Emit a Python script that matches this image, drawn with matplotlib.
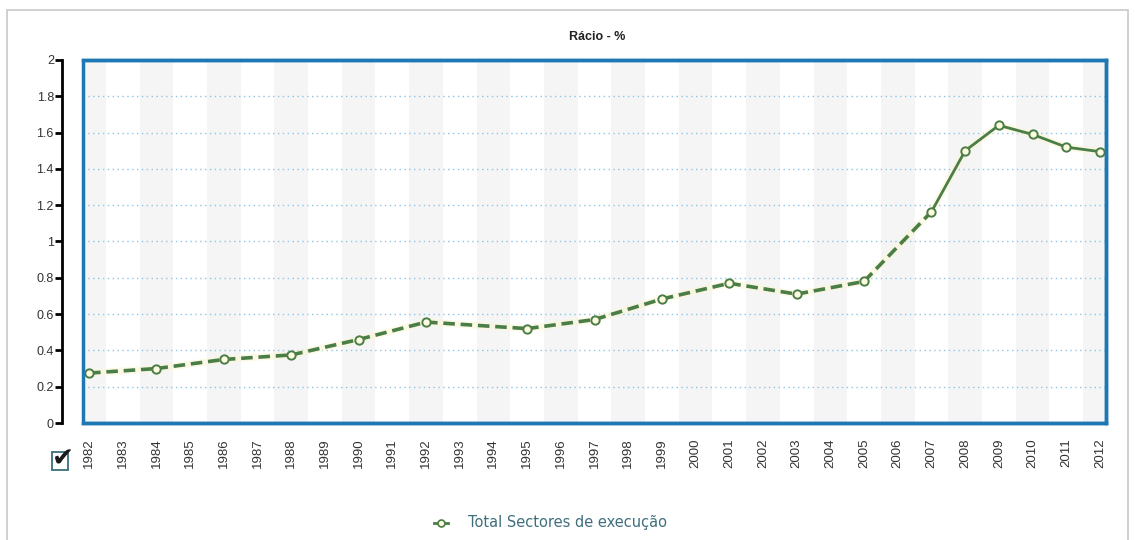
import numpy as np
import matplotlib
matplotlib.use("Agg")
import matplotlib.pyplot as plt
from matplotlib.patches import Rectangle

# values
years = [1982, 1984, 1986, 1988, 1990, 1992, 1995, 1997, 1999, 2001,
         2003, 2005, 2007, 2008, 2009, 2010, 2011, 2012]
ratio = [0.275, 0.30, 0.35, 0.375, 0.46, 0.556, 0.52, 0.57, 0.683, 0.77,
         0.71, 0.78, 1.164, 1.50, 1.64, 1.59, 1.52, 1.495]
all_years = list(range(1982, 2013))
y_ticks = [0, 0.2, 0.4, 0.6, 0.8, 1, 1.2, 1.4, 1.6, 1.8, 2]
y_labels = ["0", "0.2", "0.4", "0.6", "0.8", "1", "1.2", "1.4", "1.6", "1.8", "2"]
title = "Rácio - %"
series_name = "Total Sectores de execução"

GREEN = "#4b7d46"
FILL = "#fdfbe0"
BLUE = "#1f77b4"

plt.rcParams["font.family"] = ["Liberation Sans", "DejaVu Sans"]

W, H = 1135, 540
fig = plt.figure(figsize=(W / 100, H / 100), dpi=100)

# outer grey frame of the widget
fig.patches.append(Rectangle((7 / W, -0.01), (1128 - 7) / W, 1 - 10 / H + 0.01,
                             transform=fig.transFigure, fill=False,
                             edgecolor="#c8c8c8", linewidth=1.2))

ax = fig.add_axes([83 / W, 1 - 423 / H, (1106 - 83) / W, (423 - 60) / H])
x0, x1 = 1981.82, 2012.18
ax.set_xlim(x0, x1)
ax.set_ylim(0, 2)

# faint alternating vertical stripes, one per year
for i, yr in enumerate(all_years):
    if i % 2 == 0:
        ax.axvspan(yr - 0.5, yr + 0.5, color="#f5f5f5", zorder=0, lw=0)

# dotted horizontal grid
for v in y_ticks[1:-1]:
    ax.axhline(v, color="#8cc3e6", linestyle=(0, (1, 2.5)), linewidth=1, zorder=1)

# line: dashed where years are missing, solid between consecutive years
for i in range(len(years) - 1):
    xs = years[i:i + 2]
    ys = ratio[i:i + 2]
    gap = years[i + 1] - years[i] > 1
    ax.plot(xs, ys, color="#fbf6d0", linewidth=5, alpha=0.5, zorder=2,
            solid_capstyle="round")
    if gap:
        ax.plot(xs, ys, color=GREEN, linewidth=2.6, linestyle=(0, (3.2, 1.6)), zorder=3)
    else:
        ax.plot(xs, ys, color=GREEN, linewidth=2.0, zorder=3)
ax.plot(years, ratio, linestyle="none", marker="o", markersize=6,
        markerfacecolor=FILL, markeredgecolor=GREEN, markeredgewidth=1.4, zorder=4)

# blue frame around the plot area
for s in ["top", "right", "bottom"]:
    ax.spines[s].set_color(BLUE)
    ax.spines[s].set_linewidth(2.5)
ax.add_patch(Rectangle((0, 0), 1, 1, transform=ax.transAxes, fill=False,
                       edgecolor=BLUE, linewidth=2.5, zorder=5, clip_on=False))

# detached black y axis
ax.spines["left"].set_position(("outward", 15))
ax.spines["left"].set_color("black")
ax.spines["left"].set_linewidth(2)
ax.set_yticks(y_ticks)
ax.set_yticklabels(y_labels)
ax.tick_params(axis="y", direction="out", length=5, width=2, color="black",
               labelsize=9, labelcolor="#333333", pad=1)

ax.set_xticks(all_years)
ax.set_xticklabels([str(y) for y in all_years], rotation=90)
ax.tick_params(axis="x", length=0, labelsize=9.5, labelcolor="#333333", pad=11)
ax.set_facecolor("white")

fig.text(597 / W, 1 - 37 / H, title, ha="center", va="center",
         fontsize=9, fontweight="bold", color="#222222")

# checkbox glyph
fig.patches.append(Rectangle((52 / W, 1 - 470 / H), 16 / W, 18 / H,
                             transform=fig.transFigure, fill=False,
                             edgecolor="#3a6f7c", linewidth=1.3))
fig.text(63 / W, 1 - 460 / H, "✔", ha="center", va="center", fontsize=19,
         color="#1a1a1a", family="DejaVu Sans")

# legend
lx, ly = 441 / W, 1 - 523 / H
fig.lines.append(plt.Line2D([lx - 7 / W, lx + 7 / W], [ly, ly],
                            transform=fig.transFigure, color=GREEN, linewidth=2))
fig.lines.append(plt.Line2D([lx], [ly], transform=fig.transFigure, marker="o",
                            markersize=5, markerfacecolor=FILL,
                            markeredgecolor=GREEN, markeredgewidth=1.2))
fig.text(468 / W, ly, series_name, ha="left", va="center", fontsize=10.5,
         color="#3f6f7e", family="DejaVu Sans")

fig.savefig("out.png", dpi=100)
